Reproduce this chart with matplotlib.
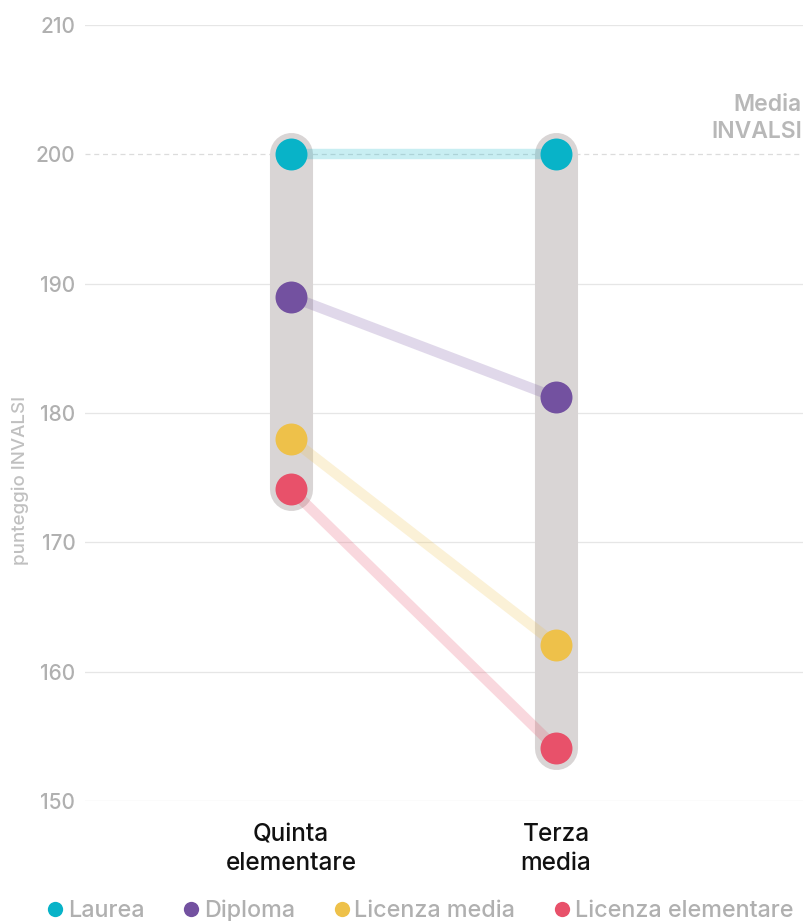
import matplotlib.pyplot as plt
from matplotlib.lines import Line2D

plt.rcParams['font.family'] = ['Inter', 'DejaVu Sans']

# --- dati ---
stages = ["Quinta\nelementare", "Terza\nmedia"]
groups = ["Laurea", "Diploma", "Licenza media", "Licenza elementare"]
colors = ["#08b3c8", "#7351a0", "#eec14a", "#e8516a"]
quinta = [200, 189, 178, 174.1]
terza = [200, 181.2, 162.1, 154.1]
media_invalsi = 200
yticks = [150, 160, 170, 180, 190, 200, 210]

W, H = 804, 921
fig = plt.figure(figsize=(W / 100, H / 100), dpi=100)
ax = fig.add_axes([85 / W, 1 - 801 / H, 1 - 85 / W, (801 - 25) / H])

xs = [0, 1]
ax.set_xlim((85 - 291) / 265, (804 - 291) / 265)
ax.set_ylim(150, 210)

# griglia
for t in yticks:
    if t == media_invalsi:
        ax.axhline(t, color="#dcdcdc", lw=0.9, ls=(0, (4, 3)), zorder=1)
    else:
        ax.axhline(t, color="#e6e6e6", lw=0.9, zorder=1)

# barre grigie (intervallo min-max per ogni fase)
for x, vals in zip(xs, [quinta, terza]):
    ax.plot([x, x], [min(vals), max(vals)], color="#d9d5d5", lw=31,
            solid_capstyle="round", zorder=2)

# linee di collegamento + punti
for g, c, a, b in zip(groups, colors, quinta, terza):
    ax.plot(xs, [a, b], color=c, lw=7.5, alpha=0.22, solid_capstyle="butt", zorder=3)
    ax.plot(xs, [a, b], "o", color=c, ms=23, mec="none", zorder=4)

# assi
for s in ax.spines.values():
    s.set_visible(False)
ax.set_yticks(yticks)
ax.set_yticklabels([str(t) for t in yticks], color="#b0b0b0", fontsize=15,
                   fontweight="medium")
ax.tick_params(axis="y", length=0, pad=7)
ax.set_xticks(xs)
ax.set_xticklabels(stages, fontsize=17.5, fontweight="medium", color="#111111",
                   linespacing=1.3)
ax.tick_params(axis="x", length=0, pad=16)

fig.text(20 / W, 1 - 480 / H, "punteggio INVALSI", rotation=90, ha="center",
         va="center", color="#c0c0c0", fontsize=13.5, fontweight="medium")

fig.text(802 / W, 1 - 105 / H, "Media", ha="right", va="center",
         color="#b8b8b8", fontsize=16.5, fontweight="semibold")
fig.text(802 / W, 1 - 132 / H, "INVALSI", ha="right", va="center",
         color="#b8b8b8", fontsize=16.5, fontweight="semibold")

# legenda
handles = [Line2D([], [], marker="o", ls="none", color=c, ms=11, mec="none")
           for c in colors]
leg = fig.legend(handles, groups, loc="center", bbox_to_anchor=(0.521, 1 - 911 / H),
                 ncol=4, frameon=False, handletextpad=0.1, columnspacing=1.55,
                 handlelength=0.9, borderaxespad=0,
                 prop={"weight": "medium", "size": 16.8})
for t in leg.get_texts():
    t.set_color("#b0b0b0")

fig.savefig("out.png", dpi=100)
